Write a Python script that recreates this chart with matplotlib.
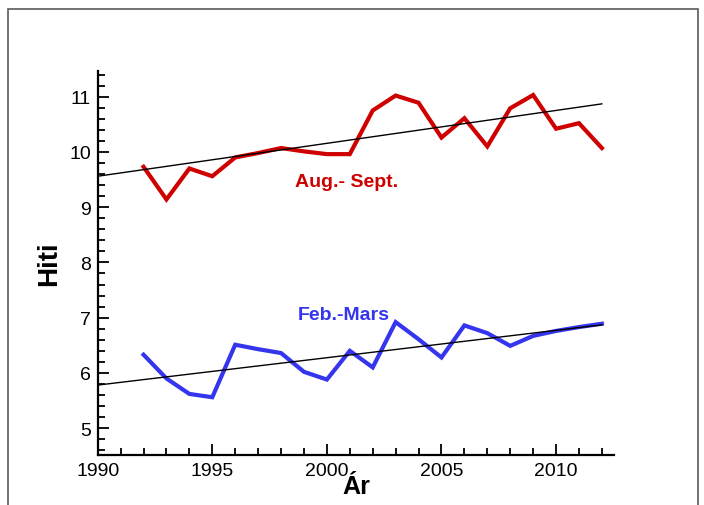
import matplotlib
matplotlib.use('Agg')
import matplotlib.pyplot as plt
from matplotlib.patches import Rectangle
from matplotlib.ticker import MultipleLocator


COLORS = {
    'red': '#cf0000',
    'blue': '#3535ee',
    'trend': '#000000',
    'frame': '#5a5a5a',
}

years = list(range(1992, 2013))

aug_sept = [9.73, 9.14, 9.70, 9.56, 9.90, 9.98, 10.07, 10.01, 9.96, 9.96,
            10.75, 11.02, 10.89, 10.26, 10.61, 10.10, 10.79, 11.03, 10.42,
            10.52, 10.07]

feb_mars = [6.33, 5.90, 5.62, 5.56, 6.51, 6.43, 6.36, 6.02, 5.88, 6.40,
            6.10, 6.92, 6.61, 6.28, 6.86, 6.72, 6.49, 6.67, 6.76, 6.83,
            6.89]

# trend lines, end points
trend_years = [1990, 2012]
aug_sept_trend = [9.56, 10.87]
feb_mars_trend = [5.78, 6.87]

plt.rcParams['font.family'] = ['Liberation Sans', 'DejaVu Sans']

fig = plt.figure(figsize=(7.04, 5.06), dpi=100)
fig.patch.set_facecolor('white')

# thin grey frame round the figure (bottom edge falls off the picture)
fig.add_artist(Rectangle((8 / 704, -0.05), 690 / 704, 1.05 - 10.3 / 506,
                         transform=fig.transFigure, fill=False,
                         edgecolor=COLORS['frame'], linewidth=1.2))

ax = fig.add_axes([97.7 / 704, 1 - 455.7 / 506, 516.8 / 704, 384 / 506])

ax.plot(years, aug_sept, color=COLORS['red'], linewidth=3.0,
        solid_joinstyle='miter', zorder=2)
ax.plot(years, feb_mars, color=COLORS['blue'], linewidth=3.0,
        solid_joinstyle='miter', zorder=2)
ax.plot(trend_years, aug_sept_trend, color=COLORS['trend'], linewidth=1.0,
        zorder=3)
ax.plot(trend_years, feb_mars_trend, color=COLORS['trend'], linewidth=1.0,
        zorder=3)

ax.text(2000.84, 9.46, 'Aug.- Sept.', color=COLORS['red'], fontsize=14,
        fontweight='bold', ha='center', va='center')
ax.text(2000.74, 7.06, 'Feb.-Mars', color=COLORS['blue'], fontsize=14,
        fontweight='bold', ha='center', va='center')

ax.set_xlim(1990, 2012.55)
ax.set_ylim(4.52, 11.47)

ax.xaxis.set_major_locator(MultipleLocator(5))
ax.xaxis.set_minor_locator(MultipleLocator(1))
ax.yaxis.set_major_locator(MultipleLocator(1))
ax.yaxis.set_minor_locator(MultipleLocator(0.2))

ax.tick_params(which='both', direction='in', width=1.3, colors='black')
ax.tick_params(which='major', length=8, labelsize=14, pad=5)
ax.tick_params(which='minor', length=5)

for side in ['top', 'right']:
    ax.spines[side].set_visible(False)
for side in ['left', 'bottom']:
    ax.spines[side].set_linewidth(1.6)

ax.set_xlabel('Ár', fontsize=18, fontweight='bold', labelpad=-3)
ax.set_ylabel('Hiti', fontsize=20, fontweight='bold', labelpad=5)

fig.savefig('out.png', dpi=100, facecolor='white')
